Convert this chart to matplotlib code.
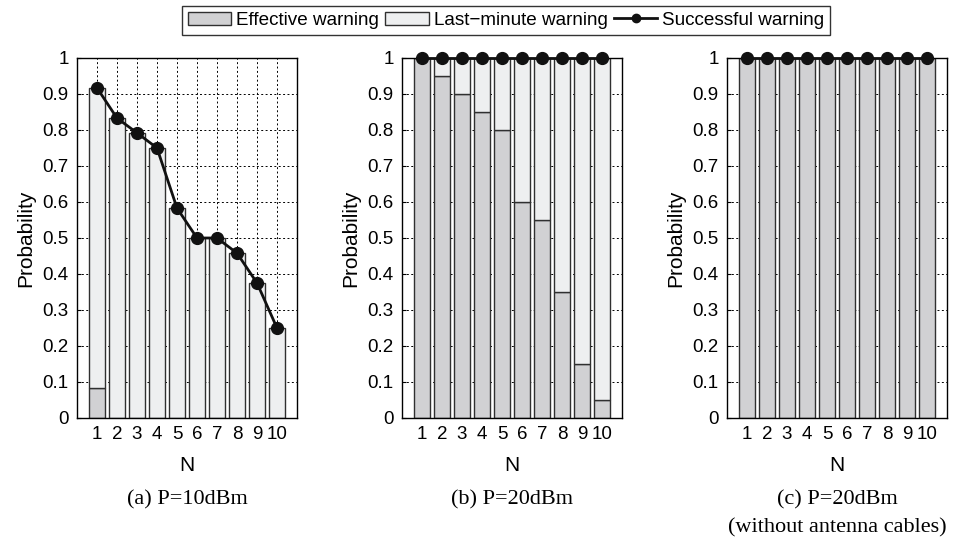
import matplotlib
matplotlib.use("Agg")
import matplotlib.pyplot as plt
import numpy as np
from matplotlib.lines import Line2D
from matplotlib.patches import Patch

N = [1, 2, 3, 4, 5, 6, 7, 8, 9, 10]
eff_a = [0.083, 0, 0, 0, 0, 0, 0, 0, 0, 0]
succ_a = [0.917, 0.833, 0.792, 0.75, 0.583, 0.5, 0.5, 0.458, 0.375, 0.25]
eff_b = [1.0, 0.95, 0.9, 0.85, 0.8, 0.6, 0.55, 0.35, 0.15, 0.05]
succ_b = [1, 1, 1, 1, 1, 1, 1, 1, 1, 1]
eff_c = [1, 1, 1, 1, 1, 1, 1, 1, 1, 1]
succ_c = [1, 1, 1, 1, 1, 1, 1, 1, 1, 1]
captions = [["(a) P=10dBm"], ["(b) P=20dBm"], ["(c) P=20dBm", "(without antenna cables)"]]
yticks = [0, 0.1, 0.2, 0.3, 0.4, 0.5, 0.6, 0.7, 0.8, 0.9, 1]
ytick_labels = ["0", "0.1", "0.2", "0.3", "0.4", "0.5", "0.6", "0.7", "0.8", "0.9", "1"]

plt.rcParams['font.family'] = ['Liberation Sans', 'DejaVu Sans']
EFF_C = '#d1d1d3'
LAST_C = '#eeeff0'
EDGE = '#303030'

fig = plt.figure(figsize=(9.55, 5.38), dpi=100)
lefts = [77 / 955, 402 / 955, 727 / 955]
w = 220 / 955
b = 1 - 418 / 538
h = 360 / 538
data = [(eff_a, succ_a), (eff_b, succ_b), (eff_c, succ_c)]
for i, (eff, succ) in enumerate(data):
    ax = fig.add_axes([lefts[i], b, w, h])
    ax.set_axisbelow(True)
    x = np.array(N)
    eff = np.array(eff, dtype=float)
    succ = np.array(succ, dtype=float)
    last = succ - eff
    ax.bar(x, eff, width=0.8, color=EFF_C, edgecolor=EDGE, linewidth=1.0, zorder=2)
    ax.bar(x, last, bottom=eff, width=0.8, color=LAST_C, edgecolor=EDGE, linewidth=1.0, zorder=2)
    ax.plot(x, succ, color='#111111', lw=2, marker='o', markersize=8.5, zorder=4, clip_on=False)
    ax.set_xlim(0, 11)
    ax.set_ylim(0, 1)
    ax.set_xticks(N)
    ax.set_yticks(yticks)
    ax.set_yticklabels(ytick_labels)
    ax.grid(True, color='black', linestyle=(0, (2, 2.5)), linewidth=0.7)
    ax.tick_params(direction='in', labelsize=13.5, length=3, pad=6)
    for s in ax.spines.values():
        s.set_linewidth(1.0)
    ax.set_xlabel("N", fontsize=15, labelpad=9)
    ax.set_ylabel("Probability", fontsize=15, labelpad=5)
    for j, line in enumerate(captions[i]):
        ax.text(0.5, (418 - 500 - 28 * j) / 360, line, transform=ax.transAxes, ha='center', va='center',
                fontsize=16, family=['Liberation Serif', 'DejaVu Serif'])

handles = [Patch(facecolor=EFF_C, edgecolor=EDGE, label='Effective warning'),
           Patch(facecolor=LAST_C, edgecolor=EDGE, label='Last\u2212minute warning'),
           Line2D([], [], color='#111111', lw=2, marker='o', markersize=6, label='Successful warning')]
fig.legend(handles=handles, loc='upper center', bbox_to_anchor=(506 / 955, 1 - 6 / 538), ncol=3,
           fontsize=13.6, frameon=True, fancybox=False, edgecolor='black', handlelength=2.3,
           handletextpad=0.25, columnspacing=0.35, borderpad=0.3, borderaxespad=0.0)

fig.savefig("out.png", dpi=100)
